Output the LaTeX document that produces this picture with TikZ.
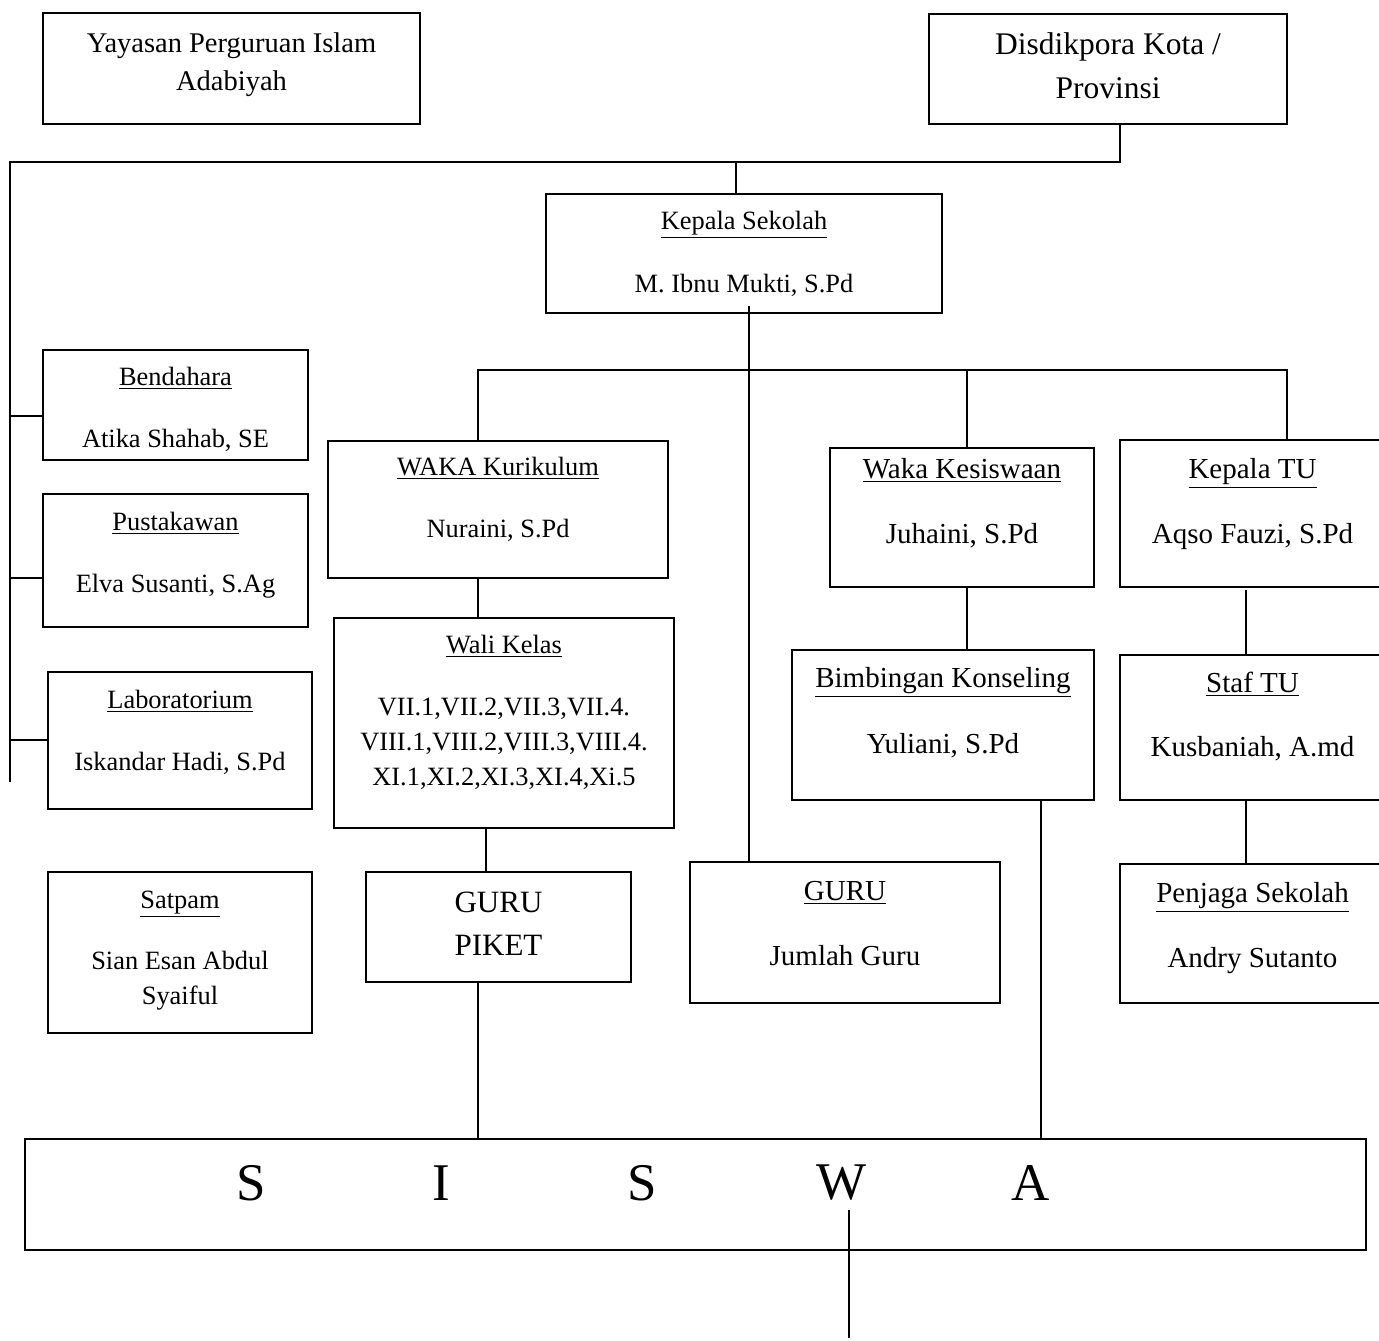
\documentclass[tikz,border=0pt]{standalone}
\usepackage{fontspec}
\setmainfont{Liberation Serif}
\usetikzlibrary{calc}
\tikzset{
  bx/.style={draw, rectangle, line width=1pt, inner sep=0pt, outer sep=0pt},
  fs/.style={font=\fontsize{13.2}{17.5}\selectfont},
  fm/.style={font=\fontsize{14.5}{17.5}\selectfont},
  ln/.style={line width=1pt},
  letter/.style={inner sep=0pt, font=\fontsize{26.5}{30}\selectfont},
}
% #1 name, #2 x1, #3 y1, #4 x2, #5 y2, #6 style, #7 first baseline y, #8 text
\newcommand\bxn[8]{%
  \pgfmathsetmacro\rzval{((#3+#5)/2-#7)*0.5}%
  \node[bx,#6,minimum width={(#4-#2)*0.5pt},minimum height={(#5-#3)*0.5pt}] (#1) at ({(#2+#4)/2},{(#3+#5)/2})
    {\raisebox{\rzval pt}[0pt][0pt]{\begin{tabular}[t]{@{}c@{}}#8\end{tabular}}};}
\begin{document}
\begin{tikzpicture}[x=0.5pt,y=-0.5pt]
\useasboundingbox (0,0) rectangle (1379,1340);
\clip (0,0) rectangle (1379,1340);

% top boxes
\bxn{yay}{43}{13}{420}{124}{font=\fontsize{14.25}{19}\selectfont}{52}{Yayasan Perguruan Islam\\Adabiyah}
\bxn{dis}{929}{14}{1287}{124}{font=\fontsize{15.75}{22}\selectfont}{54}{Disdikpora Kota /\\Provinsi}
\bxn{kep}{546}{194}{942}{313}{fs}{229}{\underline{Kepala Sekolah}\\[14pt]M. Ibnu Mukti, S.Pd}

% left column
\bxn{bend}{43}{350}{308}{460}{fs}{385}{\underline{Bendahara}\\[13.5pt]Atika Shahab, SE}
\bxn{pust}{43}{494}{308}{627}{fs}{530}{\underline{Pustakawan}\\[13.5pt]Elva Susanti, S.Ag}
\bxn{lab}{48}{672}{312}{809}{fs}{708}{\underline{Laboratorium}\\[13.5pt]Iskandar Hadi, S.Pd}
\bxn{sat}{48}{872}{312}{1033}{fs}{908}{\underline{Satpam}\\[13pt]Sian Esan Abdul\\Syaiful}

% middle
\bxn{waka}{328}{441}{668}{578}{fs}{475}{\underline{WAKA Kurikulum}\\[13.5pt]Nuraini, S.Pd}
\bxn{wali}{334}{618}{674}{828}{fs}{653}{\underline{Wali Kelas}\\[13.5pt]VII.1,VII.2,VII.3,VII.4.\\VIII.1,VIII.2,VIII.3,VIII.4.\\XI.1,XI.2,XI.3,XI.4,Xi.5}
\bxn{piket}{366}{872}{631}{982}{font=\fontsize{15.5}{21.5}\selectfont}{912}{GURU\\PIKET}
\bxn{guru}{690}{862}{1000}{1003}{fm}{900}{\underline{GURU}\\[15pt]Jumlah Guru}

% right
\bxn{kes}{830}{448}{1094}{587}{fm}{478}{\underline{Waka Kesiswaan}\\[15pt]Juhaini, S.Pd}
\bxn{bk}{792}{650}{1094}{800}{fm}{687}{\underline{Bimbingan Konseling}\\[15.5pt]Yuliani, S.Pd}
\bxn{ktu}{1120}{440}{1385}{587}{fm}{478}{\underline{Kepala TU}\\[15pt]Aqso Fauzi, S.Pd}
\bxn{stu}{1120}{655}{1385}{800}{fm}{692}{\underline{Staf TU}\\[14.5pt]Kusbaniah, A.md}
\bxn{pen}{1120}{864}{1385}{1003}{fm}{902}{\underline{Penjaga Sekolah}\\[15pt]Andry Sutanto}

% siswa
\node[bx, line width=1.2pt, minimum width={1341*0.5pt}, minimum height={111*0.5pt}] (siswa) at (695.5,1194.5) {};
\node[letter] (s1) at (251,1183) {S};
\node[letter] (s2) at (441,1183) {I};
\node[letter] (s3) at (642,1183) {S};
\node[letter] (s4) at (841,1183) {W};
\node[letter] (s5) at (1031,1183) {A};

% coordinates
\coordinate (tR) at (1120,162);
\coordinate (tL) at (10,162);
\coordinate (tK) at (736,162);
\coordinate (lEnd) at (10,782);
\coordinate (b1) at (10,416);
\coordinate (b2) at (10,578);
\coordinate (b3) at (10,740);
\coordinate (k1) at (749,306);
\coordinate (busL) at (478,370);
\coordinate (busR) at (1287,370);
\coordinate (busK) at (967,370);
\coordinate (xw) at (486,0);
\coordinate (xb) at (1041,0);
\coordinate (xt) at (1246,0);
\coordinate (swTop) at (849,1210);
\coordinate (swEnd) at (849,1338);

% connectors
\draw[ln] (dis.south -| tR) -- (tR) -- (tL) -- (lEnd);
\draw[ln] (tK) -- (kep.north -| tK);
\draw[ln] (b1) -- (b1 -| bend.west);
\draw[ln] (b2) -- (b2 -| pust.west);
\draw[ln] (b3) -- (b3 -| lab.west);
\draw[ln] (k1) -- (k1 |- guru.north);
\draw[ln] (waka.north -| busL) -- (busL) -- (busR) -- (ktu.north -| busR);
\draw[ln] (busK) -- (kes.north -| busK);
\draw[ln] (waka.south -| busL) -- (wali.north -| busL);
\draw[ln] (wali.south -| xw) -- (piket.north -| xw);
\draw[ln] (piket.south -| busL) -- (siswa.north -| busL);
\draw[ln] (kes.south -| busK) -- (bk.north -| busK);
\draw[ln] (bk.south -| xb) -- (siswa.north -| xb);
\draw[ln] ([yshift=-1.5pt]ktu.south -| xt) -- (stu.north -| xt);
\draw[ln] (stu.south -| xt) -- (pen.north -| xt);
\draw[ln] (swTop) -- (swEnd);
\end{tikzpicture}
\end{document}
